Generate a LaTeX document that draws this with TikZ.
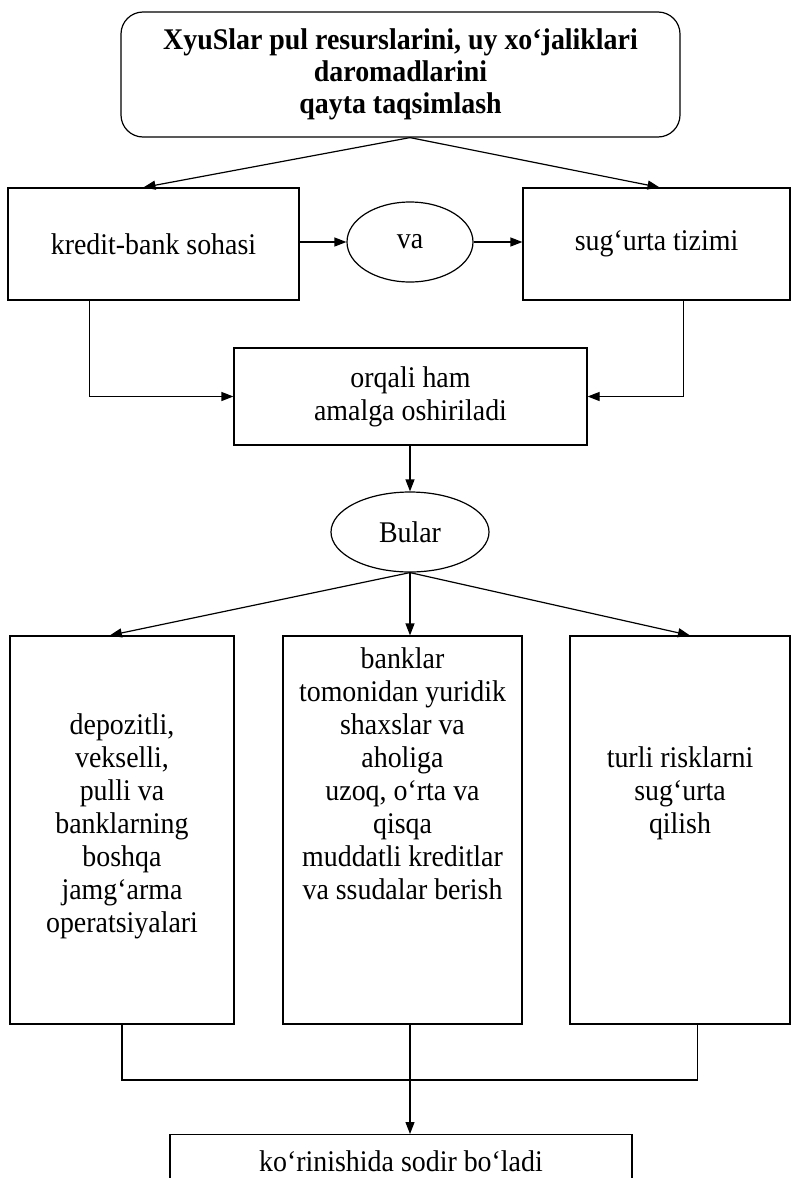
\documentclass[tikz,border=0pt]{standalone}
\usepackage{fontspec}
\setmainfont{Liberation Serif}[FakeStretch=0.93]
\usetikzlibrary{arrows.meta,shapes.geometric,calc}
\begin{document}
\begin{tikzpicture}[x=1pt,y=-1pt,
  line width=1.2pt,
  txt/.style={font=\fontsize{30}{33}\selectfont, align=center},
  boxnode/.style={draw, rectangle, inner sep=0pt, txt},
  ovalnode/.style={draw, ellipse, inner sep=0pt, txt},
  arr/.style={-{Triangle[length=12pt,width=9pt]}}
]
\useasboundingbox (0,0) rectangle (791,1178);
\fill[white] (0,0) rectangle (791,1178);

% top box
\node[boxnode, rounded corners=22pt, minimum width=559pt, minimum height=125pt,
      font=\fontsize{30}{32}\selectfont\bfseries] (top) at (400.5,74.5)
  {XyuSlar pul resurslarini, uy xo‘jaliklari\\daromadlarini\\qayta taqsimlash};

% second row
\node[boxnode, minimum width=291pt, minimum height=112pt] (kb) at (153.5,244) {kredit-bank sohasi};
\node[ovalnode, minimum width=126pt, minimum height=80pt] (va) at (410,242) {va};
\node[boxnode, minimum width=267pt, minimum height=112pt] (su) at (656.5,244) {sug‘urta tizimi};

% middle box
\node[boxnode, minimum width=353pt, minimum height=97pt] (oh) at (410.5,396.5) {orqali ham\\amalga oshiriladi};

% Bular
\node[ovalnode, minimum width=158pt, minimum height=80pt] (bu) at (410,532) {Bular};

% bottom three boxes
\node[boxnode, minimum width=224pt, minimum height=388pt] (b1) at (122,830) {};
\node[boxnode, minimum width=239pt, minimum height=388pt] (b2) at (402.5,830) {};
\node[boxnode, minimum width=220pt, minimum height=388pt] (b3) at (680,830) {};

\node[txt, anchor=north, inner sep=0pt] (t1) at (122,713)
  {depozitli,\\vekselli,\\pulli va\\banklarning\\boshqa\\jamg‘arma\\operatsiyalari};
\node[txt, anchor=north, inner sep=0pt] (t2) at (402.5,647)
  {banklar\\tomonidan yuridik\\shaxslar va\\aholiga\\uzoq, o‘rta va\\qisqa\\muddatli kreditlar\\va ssudalar berish};
\node[txt, anchor=north, inner sep=0pt] (t3) at (680,746)
  {turli risklarni\\sug‘urta\\qilish};

% result box (runs off the bottom)
\node[boxnode, anchor=north, minimum width=462pt, text height=37pt, text depth=40pt] (res) at (401,1134)
  {ko‘rinishida sodir bo‘ladi};

% connectors
\draw[arr] (top.south -| va) -- ($(kb.north)+(-10,0)$);
\draw[arr] (top.south -| va) -- ($(su.north)+(3,0)$);
\draw[arr] (kb.east |- va) -- (va.west);
\draw[arr] (va.east) -- (su.west |- va);
\draw[arr] ($(kb.south west)!0.28!(kb.south east)$) |- (oh.west);
\draw[arr] ($(su.south west)!0.6!(su.south east)$) |- (oh.east);
\draw[arr] (oh.south -| va) -- (bu.north);
\draw[arr] (bu.south) -- ($(b1.north west)!0.446!(b1.north east)$);
\draw[arr] (bu.south) -- (b2.north -| bu.south);
\draw[arr] (bu.south) -- ($(b3.north west)!0.545!(b3.north east)$);

\coordinate (j) at (410,1080);
\draw (b1.south) |- (j) -| ($(b3.south west)!0.58!(b3.south east)$);
\draw[arr] (b2.south -| j) -- (res.north -| j);
\end{tikzpicture}
\end{document}
